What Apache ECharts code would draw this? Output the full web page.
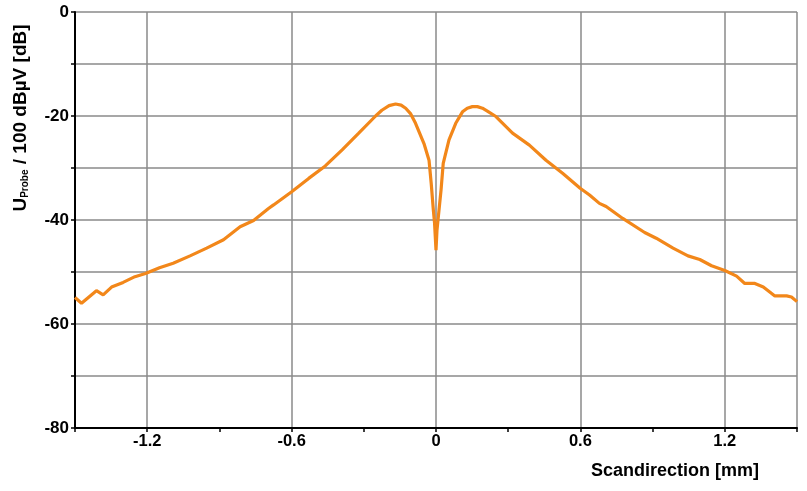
<!DOCTYPE html>
<html>
<head>
<meta charset="utf-8">
<script src="https://cdn.jsdelivr.net/npm/echarts@6/dist/echarts.min.js"></script>
<style>html,body{margin:0;padding:0;background:#fff}#c{width:807px;height:491px}</style>
</head>
<body>
<div id="c"></div>
<script>
// Scan position [mm]
const scanX = [-1.5,-1.473,-1.411,-1.383,-1.348,-1.3,-1.251,-1.207,-1.149,-1.092,-1.022,-0.953,-0.883,-0.814,-0.758,-0.696,-0.675,-0.601,-0.529,-0.46,-0.39,-0.321,-0.251,-0.225,-0.195,-0.168,-0.145,-0.126,-0.105,-0.085,-0.05,-0.029,-0.02,-0.011,-0.006,0,0.004,0.007,0.021,0.03,0.054,0.082,0.11,0.13,0.151,0.172,0.193,0.215,0.249,0.318,0.388,0.457,0.526,0.599,0.638,0.679,0.707,0.776,0.867,0.915,0.985,1.047,1.096,1.145,1.2,1.249,1.283,1.325,1.36,1.408,1.457,1.477,1.5];
// Probe level [dB]
const levelDb = [-54.9,-56.0,-53.6,-54.4,-52.9,-52.0,-50.9,-50.3,-49.2,-48.3,-46.9,-45.4,-43.8,-41.3,-40.1,-37.8,-37.1,-34.6,-32.0,-29.6,-26.5,-23.3,-20.0,-18.9,-18.0,-17.7,-17.9,-18.5,-19.6,-21.4,-25.3,-28.5,-32.9,-38.1,-40.6,-45.8,-42.0,-40.6,-34.2,-29.1,-24.6,-21.4,-19.2,-18.5,-18.2,-18.2,-18.5,-19.1,-20.1,-23.3,-25.6,-28.5,-31.0,-33.9,-35.2,-36.8,-37.4,-39.7,-42.4,-43.5,-45.4,-46.9,-47.6,-48.8,-49.7,-50.8,-52.2,-52.2,-52.9,-54.6,-54.6,-54.8,-55.7];
const xGridValues = [-1.2,-0.6,0,0.6,1.2,1.5];
const xLabelValues = [-1.2,-0.6,0,0.6,1.2];
const yLabelValues = [0,-20,-40,-60,-80];

const data = scanX.map((x,i)=>[x, levelDb[i]]);
const FONT = '"Liberation Sans", Arial, sans-serif';
const chart = echarts.init(document.getElementById('c'));
chart.setOption({
  animation:false,
  backgroundColor:'#fff',
  grid:{left:75,right:10,top:12,bottom:63,containLabel:false},
  xAxis:[{
    type:'value',min:-1.5,max:1.5,interval:0.3,
    axisLine:{show:true,onZero:false,lineStyle:{color:'#000',width:2}},
    axisTick:{show:true,length:4,lineStyle:{color:'#000',width:1.5}},
    axisLabel:{
      margin:5,color:'#000',fontFamily:FONT,fontWeight:'bold',fontSize:16.5,
      formatter:v=>{const r=Math.round(v*10)/10; return xLabelValues.some(t=>Math.abs(t-r)<1e-6)? String(r):'';}
    },
    splitLine:{show:false}
  },{
    type:'value',min:-1.5,max:1.5,position:'bottom',
    axisLine:{show:false},
    axisTick:{show:false,customValues:xGridValues},
    axisLabel:{show:false,customValues:xGridValues},
    splitLine:{show:true,lineStyle:{color:'#8a8a8a',width:1.5}}
  }],
  yAxis:{
    type:'value',min:-80,max:0,interval:10,
    axisLine:{show:true,onZero:false,lineStyle:{color:'#000',width:2}},
    axisTick:{show:true,length:4,lineStyle:{color:'#000',width:1.5}},
    axisLabel:{
      margin:6,color:'#000',fontFamily:FONT,fontWeight:'bold',fontSize:17,
      formatter:v=>yLabelValues.indexOf(Math.round(v))>=0? String(Math.round(v)):''
    },
    splitLine:{show:true,lineStyle:{color:'#8a8a8a',width:1.5}}
  },
  series:[{
    type:'line',data:data,xAxisIndex:0,showSymbol:false,smooth:false,
    lineStyle:{color:'#F2871A',width:3.2},z:5
  }],
  graphic:[{
    type:'text',x:21,y:118,rotation:Math.PI/2,
    style:{
      text:'{u|U}{s|Probe}{t| / 100 dBµV [dB]}',
      align:'center',verticalAlign:'middle',
      rich:{
        u:{fontFamily:FONT,fontWeight:'bold',fontSize:19,fill:'#000'},
        s:{fontFamily:FONT,fontWeight:'bold',fontSize:10,fill:'#000',padding:[9,0,0,0]},
        t:{fontFamily:FONT,fontWeight:'bold',fontSize:19,fill:'#000'}
      }
    }
  },{
    type:'text',x:675,y:471,
    style:{text:'Scandirection [mm]',align:'center',verticalAlign:'middle',
      fontFamily:FONT,fontWeight:'bold',fontSize:18,fill:'#000'}
  }]
});
</script>
</body>
</html>
